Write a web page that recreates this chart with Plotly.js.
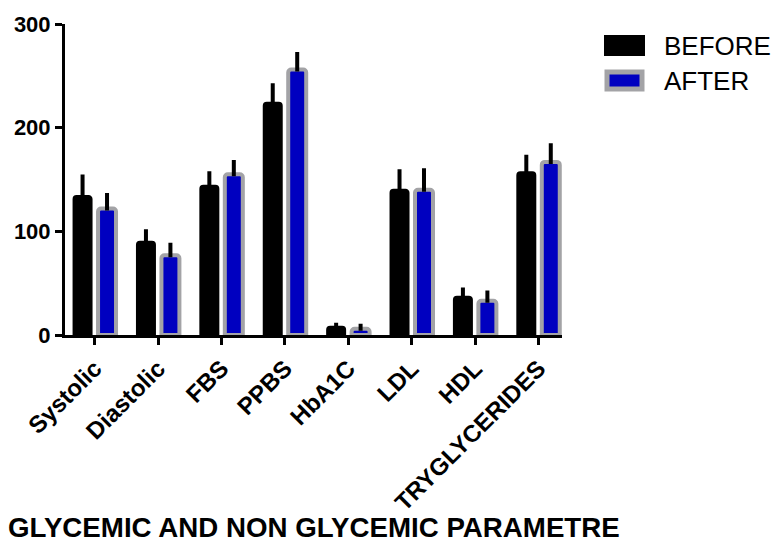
<!DOCTYPE html>
<html>
<head>
<meta charset="utf-8">
<script src="https://cdn.plot.ly/plotly-3.0.1.min.js"></script>
<style>html,body{margin:0;padding:0;background:#fff;}#chart{width:774px;height:544px;}</style>
</head>
<body>
<div id="chart"></div>
<script>
const categories = ["Systolic","Diastolic","FBS","PPBS","HbA1C","LDL","HDL","TRYGLYCERIDES"];
const beforeValues = [134, 90, 144, 224, 8, 140, 37, 157];
const beforeErrors = [19, 10, 12, 17, 2, 18, 7, 15];
const afterValues = [122, 77, 155, 256, 6, 140, 33, 167];
const afterErrors = [13, 10, 12, 15, 3, 19, 8, 16];
const seriesNames = ["BEFORE", "AFTER"];
const yTicks = [0, 100, 200, 300];
const chartTitle = "GLYCEMIC AND NON GLYCEMIC PARAMETRE";

const FONT = "Liberation Sans, Arial, sans-serif";
const L = 65, T = 24, R = 562, B = 335, W = 774, H = 544;
const px = x => (x - L) / (R - L);
const py = y => (B - y) / (B - T);

const zeros = categories.map(() => 0);

const traces = [
  {
    type: "bar", name: seriesNames[0], x: categories, y: beforeValues,
    marker: {color: "#000000", line: {color: "#000000", width: 2}},
    error_y: {type: "data", symmetric: false, array: beforeErrors, arrayminus: zeros,
      color: "#000000", thickness: 4, width: 2},
    showlegend: false
  },
  {
    type: "bar", name: seriesNames[1], x: categories, y: afterValues,
    marker: {color: "#0000c0", line: {color: "#a3a3a6", width: 4}},
    error_y: {type: "data", symmetric: false, array: afterErrors, arrayminus: zeros,
      color: "#000000", thickness: 4, width: 2},
    showlegend: false
  }
];

const layout = {
  width: W, height: H,
  margin: {l: L, t: T, r: W - R, b: H - B, pad: 0},
  paper_bgcolor: "#ffffff", plot_bgcolor: "#ffffff",
  barmode: "group", bargap: 0.228, bargroupgap: 0.265, barcornerradius: 3,
  font: {family: FONT, color: "#000000"},
  xaxis: {
    range: [-0.47, 7.37], showline: true, linecolor: "#000000", linewidth: 3,
    ticks: "outside", ticklen: 7, tickwidth: 3, tickcolor: "#000000",
    tickangle: -45, showgrid: false, zeroline: false,
    tickfont: {family: FONT, size: 24, color: "#000000", weight: "bold"}
  },
  yaxis: {
    range: [0, 300], tickvals: yTicks, ticktext: yTicks.map(String),
    showline: true, linecolor: "#000000", linewidth: 3,
    ticks: "outside", ticklen: 7, tickwidth: 3, tickcolor: "#000000",
    showgrid: false, zeroline: false,
    tickfont: {family: FONT, size: 22, color: "#000000", weight: "bold"}
  },
  shapes: [
    {type: "rect", xref: "paper", yref: "paper",
      x0: px(605), x1: px(644), y0: py(36), y1: py(55),
      fillcolor: "#000000", line: {color: "#000000", width: 2}},
    {type: "rect", xref: "paper", yref: "paper",
      x0: px(607), x1: px(642), y0: py(72), y1: py(89),
      fillcolor: "#0000c0", line: {color: "#a3a3a6", width: 5}}
  ],
  annotations: [
    {xref: "paper", yref: "paper", x: px(662), y: py(46), xanchor: "left", yanchor: "middle",
      text: seriesNames[0], showarrow: false, font: {family: FONT, size: 26, color: "#000000"}},
    {xref: "paper", yref: "paper", x: px(662), y: py(81), xanchor: "left", yanchor: "middle",
      text: seriesNames[1], showarrow: false, font: {family: FONT, size: 26, color: "#000000"}},
    {xref: "paper", yref: "paper", x: px(7), y: py(527), xanchor: "left", yanchor: "middle",
      borderpad: 0,
      text: chartTitle, showarrow: false, font: {family: FONT, size: 27.7, color: "#000000", weight: "bold"}}
  ]
};

Plotly.newPlot("chart", traces, layout, {displayModeBar: false, staticPlot: true});
</script>
</body>
</html>
